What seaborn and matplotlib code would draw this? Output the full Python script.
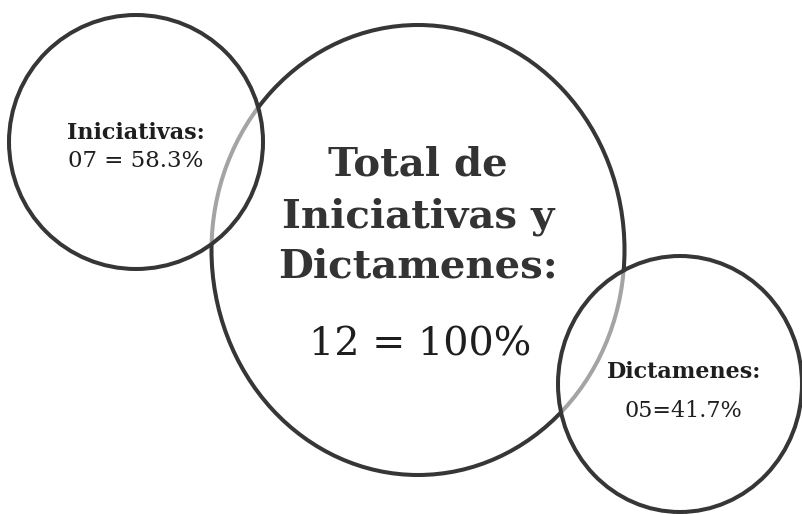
import numpy as np
import pandas as pd
import seaborn as sns
import matplotlib
matplotlib.use("Agg")
import matplotlib.pyplot as plt
from matplotlib.patches import Ellipse

# datos
categorias = ["Iniciativas", "Dictamenes"]
cantidades = [7, 5]
porcentajes = [58.3, 41.7]
total = 12
total_pct = 100

sns.set_theme(style="white")
plt.rcParams['font.family'] = ['DejaVu Serif']

fig = plt.figure(figsize=(8.03, 5.14), dpi=100)
ax = fig.add_axes([0, 0, 1, 1])
ax.set_xlim(0, 803)
ax.set_ylim(514, 0)
ax.axis('off')

color_linea = '#363636'
lw = 2.9

# circulo grande (total)
grande = Ellipse((418, 250), 413, 450, facecolor='none', edgecolor=color_linea, lw=lw, zorder=1)
ax.add_patch(grande)

# circulos chicos, relleno blanco semitransparente para aclarar el arco de abajo
izq = Ellipse((136, 142), 254, 254, facecolor=(1, 1, 1, 0.55), edgecolor=color_linea, lw=lw, zorder=2)
der = Ellipse((680, 384), 244, 256, facecolor=(1, 1, 1, 0.55), edgecolor=color_linea, lw=lw, zorder=2)
ax.add_patch(izq)
ax.add_patch(der)

tc = '#1e1e1e'
# textos del circulo izquierdo
ax.text(136, 139, f"{categorias[0]}:", ha='center', va='baseline', fontsize=16, fontweight='bold', color=tc, zorder=3)
ax.text(136, 167, f"{cantidades[0]:02d} = {porcentajes[0]}%", ha='center', va='baseline', fontsize=16.5, color=tc, zorder=3)

# textos del circulo grande
lineas = ["Total de", f"{categorias[0]} y", f"{categorias[1]}:"]
for linea, yb in zip(lineas, [175, 227, 277]):
    ax.text(418, yb, linea, ha='center', va='baseline', fontsize=29, fontweight='bold', color='#333333', zorder=3)
ax.text(420, 355, f"{total} = {total_pct}%", ha='center', va='baseline', fontsize=28.5, color=tc, zorder=3)

# textos del circulo derecho
ax.text(684, 378, f"{categorias[1]}:", ha='center', va='baseline', fontsize=16, fontweight='bold', color=tc, zorder=3)
ax.text(683, 417, f"{cantidades[1]:02d}={porcentajes[1]}%", ha='center', va='baseline', fontsize=16, color=tc, zorder=3)

fig.savefig('out.png', dpi=100, facecolor='white')
